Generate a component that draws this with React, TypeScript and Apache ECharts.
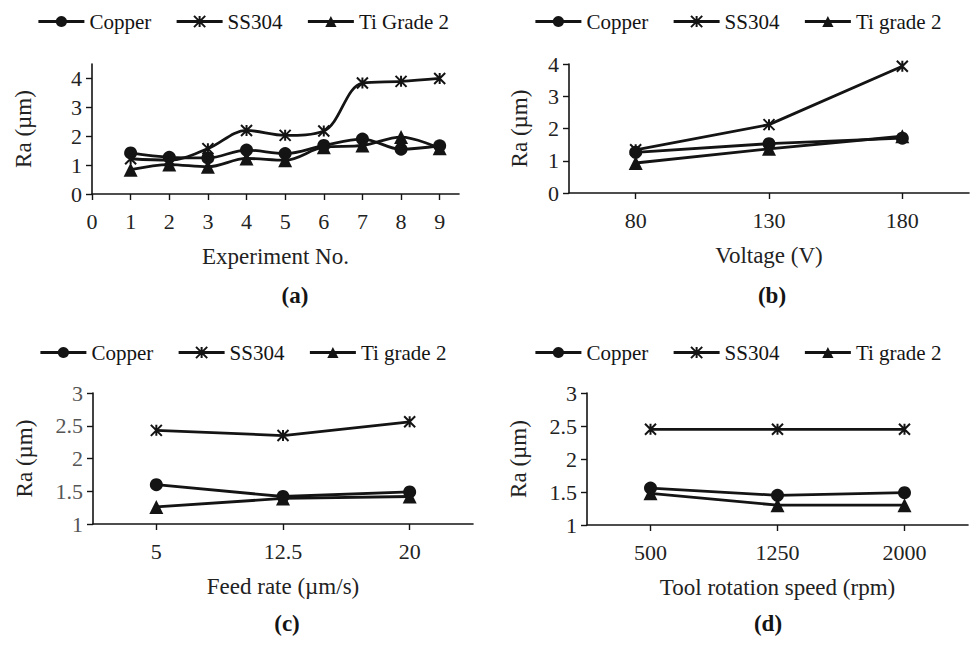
import React, { useEffect, useRef } from 'react';
import * as echarts from 'echarts';

// ---- data ----
const experiments = [1, 2, 3, 4, 5, 6, 7, 8, 9];
const copperA = [1.42, 1.27, 1.25, 1.52, 1.4, 1.68, 1.9, 1.55, 1.67];
const ss304A = [1.22, 1.17, 1.57, 2.2, 2.03, 2.18, 3.84, 3.9, 4.0];
const tiA = [0.84, 1.02, 0.94, 1.23, 1.17, 1.62, 1.68, 1.97, 1.58];

const voltages = ['80', '130', '180'];
const copperB = [1.26, 1.53, 1.7];
const ss304B = [1.34, 2.12, 3.93];
const tiB = [0.93, 1.37, 1.76];

const feedRates = ['5', '12.5', '20'];
const copperC = [1.6, 1.42, 1.49];
const ss304C = [2.43, 2.35, 2.56];
const tiC = [1.26, 1.39, 1.42];

const speeds = ['500', '1250', '2000'];
const copperD = [1.56, 1.45, 1.49];
const ss304D = [2.45, 2.45, 2.45];
const tiD = [1.48, 1.3, 1.3];

const xTicksA = [0, 1, 2, 3, 4, 5, 6, 7, 8, 9];
const yTicksA = [0, 1, 2, 3, 4];

// ---- styling ----
const INK = '#141414';
const FONT = 'Liberation Serif, Times New Roman, serif';
const STAR = 'path://M0,0L10,10M10,0L0,10M5,0L5,10';

function series(name: string, kind: 'circle' | 'star' | 'tri', data: any[], idx: number, smooth: boolean) {
  const symbol = kind === 'circle' ? 'circle' : kind === 'star' ? STAR : 'triangle';
  const size = kind === 'circle' ? 13 : kind === 'star' ? 11 : 14;
  return {
    type: 'line',
    name,
    data,
    xAxisIndex: idx,
    yAxisIndex: idx,
    smooth: smooth ? 0.35 : false,
    symbol,
    symbolSize: size,
    showAllSymbol: true,
    lineStyle: { color: INK, width: 2.8 },
    itemStyle: { color: INK, borderColor: INK, borderWidth: kind === 'star' ? 2 : 0 },
    emphasis: { disabled: true },
  };
}

function legend(left: number, top: number, names: string[]) {
  return {
    left,
    top,
    orient: 'horizontal',
    itemWidth: 46,
    itemHeight: 14,
    itemGap: 24,
    selectedMode: false,
    data: names,
    lineStyle: { width: 2.8 },
    textStyle: { color: INK, fontSize: 21, fontFamily: FONT },
  };
}

const axisLineStyle = { show: true, lineStyle: { color: INK, width: 1.6 } };
const tickStyle = { show: true, length: 6, inside: false, lineStyle: { color: INK, width: 1.4 } };

function yAxis(idx: number, min: number, max: number, interval: number | null, gap: number, custom?: number[], labelColor = '#222') {
  const ax: any = {
    type: 'value',
    gridIndex: idx,
    min,
    max,
    name: 'Ra (µm)',
    nameLocation: 'middle',
    nameGap: gap,
    nameTextStyle: { color: '#222', fontSize: 23, fontFamily: FONT },
    axisLine: axisLineStyle,
    axisTick: { ...tickStyle },
    axisLabel: { color: labelColor, fontSize: 22, fontFamily: FONT, margin: 10 },
    splitLine: { show: false },
  };
  if (interval !== null) ax.interval = interval;
  if (custom) {
    ax.axisTick.customValues = custom;
    ax.axisLabel.customValues = custom;
  }
  return ax;
}

function catAxis(idx: number, cats: string[], name: string) {
  return {
    type: 'category',
    gridIndex: idx,
    data: cats,
    boundaryGap: true,
    name,
    nameLocation: 'middle',
    nameGap: 51,
    nameTextStyle: { color: '#222', fontSize: 23, fontFamily: FONT },
    axisLine: axisLineStyle,
    axisTick: { ...tickStyle, alignWithLabel: true },
    axisLabel: { color: '#222', fontSize: 22, fontFamily: FONT, margin: 16 },
    splitLine: { show: false },
  };
}

function caption(text: string, x: number, y: number) {
  return {
    type: 'text',
    x,
    y,
    style: {
      text,
      fill: INK,
      fontSize: 23,
      fontWeight: 'bold',
      fontFamily: FONT,
      align: 'center',
      verticalAlign: 'middle',
    },
  };
}

export default function App() {
  const ref = useRef<HTMLDivElement>(null);
  useEffect(() => {
    if (!ref.current) return;
    const chart = echarts.init(ref.current, null, { renderer: 'svg' });
    const pairs = (ys: number[]) => experiments.map((x, i) => [x, ys[i]]);
    const option: any = {
      animation: false,
      backgroundColor: '#ffffff',
      textStyle: { fontFamily: FONT },
      legend: [
        legend(32, 6, ['Copper', 'SS304', 'Ti Grade 2']),
        legend(529, 6, ['Copper', 'SS304', 'Ti grade 2']),
        legend(34, 337, ['Copper', 'SS304', 'Ti grade 2']),
        legend(529, 337, ['Copper', 'SS304', 'Ti grade 2']),
      ],
      grid: [
        { left: 92, top: 64, width: 367, height: 130 },
        { left: 569, top: 64, width: 400, height: 129 },
        { left: 93, top: 393, width: 380, height: 131 },
        { left: 587, top: 393, width: 381, height: 132 },
      ],
      xAxis: [
        {
          type: 'value',
          gridIndex: 0,
          min: 0,
          max: 9.5,
          name: 'Experiment No.',
          nameLocation: 'middle',
          nameGap: 51,
          nameTextStyle: { color: '#222', fontSize: 23, fontFamily: FONT },
          axisLine: axisLineStyle,
          axisTick: { ...tickStyle, customValues: xTicksA },
          axisLabel: { color: '#222', fontSize: 22, fontFamily: FONT, margin: 16, customValues: xTicksA },
          splitLine: { show: false },
        },
        catAxis(1, voltages, 'Voltage (V)'),
        catAxis(2, feedRates, 'Feed rate (µm/s)'),
        catAxis(3, speeds, 'Tool rotation speed (rpm)'),
      ],
      yAxis: [
        yAxis(0, 0, 4.5, null, 57, yTicksA),
        yAxis(1, 0, 4, 1, 38),
        yAxis(2, 1, 3, 0.5, 57, undefined, '#555'),
        yAxis(3, 1, 3, 0.5, 57),
      ],
      series: [
        series('Copper', 'circle', pairs(copperA), 0, true),
        series('SS304', 'star', pairs(ss304A), 0, true),
        series('Ti Grade 2', 'tri', pairs(tiA), 0, true),
        series('Copper', 'circle', copperB, 1, false),
        series('SS304', 'star', ss304B, 1, false),
        series('Ti grade 2', 'tri', tiB, 1, false),
        series('Copper', 'circle', copperC, 2, false),
        series('SS304', 'star', ss304C, 2, false),
        series('Ti grade 2', 'tri', tiC, 2, false),
        series('Copper', 'circle', copperD, 3, false),
        series('SS304', 'star', ss304D, 3, false),
        series('Ti grade 2', 'tri', tiD, 3, false),
      ],
      graphic: [
        caption('(a)', 295, 295),
        caption('(b)', 772, 295),
        caption('(c)', 287, 623),
        caption('(d)', 768, 623),
      ],
    };
    chart.setOption(option);
    return () => chart.dispose();
  }, []);
  return (
    <div
      ref={ref}
      style={{ position: 'fixed', left: 0, top: 0, width: 973, height: 645, background: '#fff' }}
    />
  );
}
